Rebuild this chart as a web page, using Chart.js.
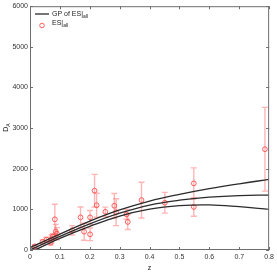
<!DOCTYPE html>
<html>
<head>
<meta charset="utf-8">
<script src="https://cdn.jsdelivr.net/npm/chart.js@4.4.0/dist/chart.umd.min.js"></script>
<style>
  html, body { margin: 0; padding: 0; background: #fff; overflow: hidden; }
  #daPlot { display: block; }
</style>
</head>
<body>
<canvas id="daPlot" width="277" height="276"></canvas>
<script>
// GP reconstruction (mean and 1-sigma band)
const zGrid = [0, 0.1, 0.2, 0.3, 0.4, 0.5, 0.6, 0.7, 0.8];
const gpUpper = [60, 390, 710, 985, 1205, 1370, 1510, 1630, 1737];
const gpMean = [0, 335, 645, 905, 1105, 1225, 1300, 1340, 1351];
const gpLower = [-60, 285, 580, 835, 1005, 1090, 1110, 1065, 1000];

// observed D_A points with 1-sigma errors
const zObs = [0.016, 0.042, 0.055, 0.069, 0.072, 0.076, 0.083, 0.086, 0.09, 0.141, 0.169, 0.181, 0.201, 0.201,
              0.216, 0.223, 0.252, 0.282, 0.288, 0.323, 0.327, 0.373, 0.451, 0.548, 0.548, 0.786];
const dObs = [90, 200, 253, 180, 270, 330, 755, 450, 400, 485, 803, 450, 803, 385,
              1460, 1100, 941, 1089, 930, 877, 690, 1228, 1163, 1640, 1060, 2480];
const dErr = [40, 50, 60, 60, 100, 70, 370, 180, 150, 115, 255, 210, 170, 155,
              400, 295, 115, 300, 330, 120, 185, 440, 255, 380, 230, 1030];

const xTicks = [0, 0.1, 0.2, 0.3, 0.4, 0.5, 0.6, 0.7, 0.8];
const yTicks = [0, 1000, 2000, 3000, 4000, 5000, 6000];

const lineStyle = {
    borderColor: '#2b2b2b',
    borderWidth: 1.3,
    pointRadius: 0,
    tension: 0.4,
    fill: false,
};

const errorBars = {
    id: 'errorBars',
    beforeDatasetsDraw(chart) {
        const { ctx, scales: { x, y } } = chart;
        ctx.save();
        ctx.beginPath();
        ctx.rect(chart.chartArea.left, chart.chartArea.top, chart.chartArea.width, chart.chartArea.height);
        ctx.clip();
        ctx.strokeStyle = 'rgba(255, 120, 120, 0.55)';
        ctx.lineWidth = 1.4;
        zObs.forEach((z, i) => {
            const px = x.getPixelForValue(z);
            const top = y.getPixelForValue(dObs[i] + dErr[i]);
            const bot = y.getPixelForValue(dObs[i] - dErr[i]);
            ctx.beginPath();
            ctx.moveTo(px, top); ctx.lineTo(px, bot);
            ctx.moveTo(px - 3, top); ctx.lineTo(px + 3, top);
            ctx.moveTo(px - 3, bot); ctx.lineTo(px + 3, bot);
            ctx.stroke();
        });
        ctx.restore();
    }
};

// matlab style box, inward ticks, legend
const boxAndLegend = {
    id: 'boxAndLegend',
    afterDraw(chart) {
        const { ctx, chartArea: a, scales: { x, y } } = chart;
        ctx.save();
        ctx.strokeStyle = '#6e6e6e';
        ctx.lineWidth = 1;
        ctx.strokeRect(a.left + 0.5, a.top + 0.5, a.width - 1, a.height - 1);
        ctx.beginPath();
        xTicks.forEach(v => {
            const px = Math.round(x.getPixelForValue(v)) + 0.5;
            ctx.moveTo(px, a.bottom); ctx.lineTo(px, a.bottom - 3);
            ctx.moveTo(px, a.top); ctx.lineTo(px, a.top + 3);
        });
        yTicks.forEach(v => {
            const py = Math.round(y.getPixelForValue(v)) + 0.5;
            ctx.moveTo(a.left, py); ctx.lineTo(a.left + 3, py);
            ctx.moveTo(a.right, py); ctx.lineTo(a.right - 3, py);
        });
        ctx.stroke();

        // legend
        const lx = a.left + 5;
        ctx.strokeStyle = '#2b2b2b';
        ctx.lineWidth = 1.3;
        ctx.beginPath();
        ctx.moveTo(lx, 14); ctx.lineTo(lx + 14, 14);
        ctx.stroke();
        ctx.strokeStyle = 'rgba(255, 60, 60, 0.8)';
        ctx.lineWidth = 1;
        ctx.beginPath();
        ctx.arc(lx + 7, 25.5, 2.3, 0, Math.PI * 2);
        ctx.stroke();

        ctx.fillStyle = '#222';
        ctx.textBaseline = 'alphabetic';
        ctx.font = '7px "Liberation Sans", Arial, sans-serif';
        const tx = lx + 17;
        ctx.fillText('GP of ES|', tx, 16);
        let w = ctx.measureText('GP of ES|').width;
        ctx.font = '5px "Liberation Sans", Arial, sans-serif';
        ctx.fillText('all', tx + w, 18);
        ctx.font = '7px "Liberation Sans", Arial, sans-serif';
        ctx.fillText('ES|', tx, 25);
        w = ctx.measureText('ES|').width;
        ctx.font = '5px "Liberation Sans", Arial, sans-serif';
        ctx.fillText('all', tx + w, 27);

        // axis titles
        ctx.font = '7px "Liberation Sans", Arial, sans-serif';
        ctx.textAlign = 'center';
        ctx.fillText('z', (a.left + a.right) / 2, 270);
        ctx.translate(8, (a.top + a.bottom) / 2);
        ctx.rotate(-Math.PI / 2);
        ctx.fillText('D', -1, 0);
        ctx.font = '5px "Liberation Sans", Arial, sans-serif';
        ctx.fillText('A', 3, 2);
        ctx.restore();
    }
};

new Chart(document.getElementById('daPlot'), {
    type: 'scatter',
    data: {
        datasets: [
            { ...lineStyle, type: 'line', label: 'upper', data: zGrid.map((z, i) => ({ x: z, y: gpUpper[i] })) },
            { ...lineStyle, type: 'line', label: 'GP of ES|all', data: zGrid.map((z, i) => ({ x: z, y: gpMean[i] })) },
            { ...lineStyle, type: 'line', label: 'lower', data: zGrid.map((z, i) => ({ x: z, y: gpLower[i] })) },
            {
                label: 'ES|all',
                data: zObs.map((z, i) => ({ x: z, y: dObs[i] })),
                pointStyle: 'circle',
                pointRadius: 2.4,
                borderWidth: 1,
                borderColor: 'rgba(255, 60, 60, 0.8)',
                backgroundColor: 'rgba(0,0,0,0)',
            },
        ]
    },
    options: {
        responsive: false,
        maintainAspectRatio: false,
        animation: false,
        devicePixelRatio: 1,
        layout: { padding: { top: 5, right: 6, left: 0, bottom: 0 } },
        plugins: {
            legend: { display: false },
            tooltip: { enabled: false },
        },
        scales: {
            x: {
                type: 'linear',
                min: 0,
                max: 0.8,
                afterBuildTicks: (s) => { s.ticks = xTicks.map(v => ({ value: v })); },
                afterFit: (s) => { s.height = 26; },
                grid: { display: false, drawTicks: false },
                border: { display: false },
                ticks: {
                    padding: 3,
                    color: '#333',
                    font: { family: '"Liberation Sans", Arial, sans-serif', size: 7 },
                    callback: (v) => String(v),
                },
            },
            y: {
                type: 'linear',
                min: 0,
                max: 6000,
                afterBuildTicks: (s) => { s.ticks = yTicks.map(v => ({ value: v })); },
                afterFit: (s) => { s.width = 30; },
                grid: { display: false, drawTicks: false },
                border: { display: false },
                ticks: {
                    padding: 2,
                    color: '#333',
                    font: { family: '"Liberation Sans", Arial, sans-serif', size: 7 },
                    callback: (v) => String(v),
                },
            },
        },
    },
    plugins: [errorBars, boxAndLegend],
});
</script>
</body>
</html>
